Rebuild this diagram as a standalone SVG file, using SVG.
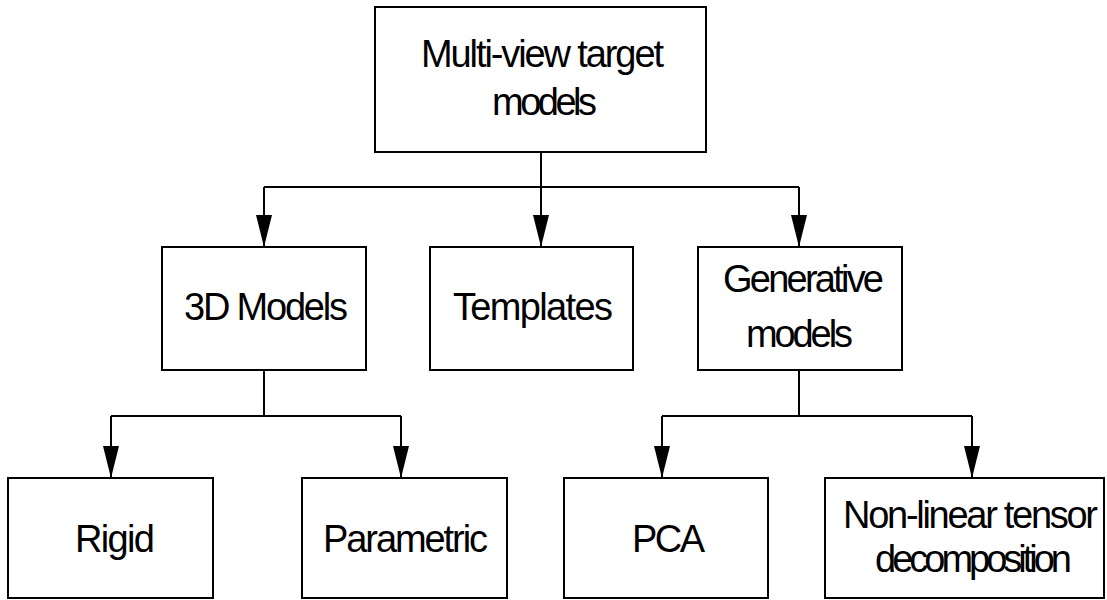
<svg xmlns="http://www.w3.org/2000/svg" width="1107" height="600" viewBox="0 0 1107 600">
  <style>
    .box { fill: #ffffff; stroke: #000000; stroke-width: 2; }
    .wire { fill: none; stroke: #000000; stroke-width: 2; }
    .label { font-family: "Liberation Sans", Arial, sans-serif; font-size: 38px; fill: #000000; }
  </style>
  <defs>
    <marker id="arrow" viewBox="0 0 32 16" refX="32" refY="8" markerWidth="32" markerHeight="16" markerUnits="userSpaceOnUse" orient="auto">
      <path d="M0,0 L32,8 L0,16 Z" fill="#000000"/>
    </marker>
  </defs>

  <g id="connectors">
    <!-- root to first level -->
    <path class="wire" d="M541,152 V247" marker-end="url(#arrow)"/>
    <path class="wire" d="M264,187 H799"/>
    <path class="wire" d="M264,187 V247" marker-end="url(#arrow)"/>
    <path class="wire" d="M799,187 V247" marker-end="url(#arrow)"/>
    <!-- 3D Models to its children -->
    <path class="wire" d="M264,370 V416"/>
    <path class="wire" d="M111,416 H401"/>
    <path class="wire" d="M111,416 V478" marker-end="url(#arrow)"/>
    <path class="wire" d="M401,416 V478" marker-end="url(#arrow)"/>
    <!-- Generative models to its children -->
    <path class="wire" d="M799,370 V416"/>
    <path class="wire" d="M662,416 H972"/>
    <path class="wire" d="M662,416 V478" marker-end="url(#arrow)"/>
    <path class="wire" d="M972,416 V478" marker-end="url(#arrow)"/>
  </g>

  <g id="node-root">
    <rect class="box" x="375" y="7" width="331" height="145"/>
    <text class="label" x="421" y="67" textLength="243" lengthAdjust="spacing">Multi-view target</text>
    <text class="label" x="492" y="115" textLength="105" lengthAdjust="spacing">models</text>
  </g>

  <g id="node-3d-models">
    <rect class="box" x="162" y="247" width="204" height="123"/>
    <text class="label" x="184" y="320" textLength="164" lengthAdjust="spacing">3D Models</text>
  </g>

  <g id="node-templates">
    <rect class="box" x="430" y="247" width="203" height="123"/>
    <text class="label" x="453" y="320" textLength="160" lengthAdjust="spacing">Templates</text>
  </g>

  <g id="node-generative">
    <rect class="box" x="698" y="247" width="204" height="123"/>
    <text class="label" x="723" y="292" textLength="161" lengthAdjust="spacing">Generative</text>
    <text class="label" x="746" y="347" textLength="107" lengthAdjust="spacing">models</text>
  </g>

  <g id="node-rigid">
    <rect class="box" x="8" y="478" width="205" height="120"/>
    <text class="label" x="75" y="552" textLength="80" lengthAdjust="spacing">Rigid</text>
  </g>

  <g id="node-parametric">
    <rect class="box" x="302" y="478" width="205" height="120"/>
    <text class="label" x="323" y="552" textLength="165" lengthAdjust="spacing">Parametric</text>
  </g>

  <g id="node-pca">
    <rect class="box" x="564" y="478" width="204" height="120"/>
    <text class="label" x="632" y="552" textLength="73" lengthAdjust="spacing">PCA</text>
  </g>

  <g id="node-tensor">
    <rect class="box" x="825" y="478" width="279" height="120"/>
    <text class="label" x="843" y="528" textLength="255" lengthAdjust="spacing">Non-linear tensor</text>
    <text class="label" x="875" y="572" textLength="197" lengthAdjust="spacing">decomposition</text>
  </g>
</svg>
